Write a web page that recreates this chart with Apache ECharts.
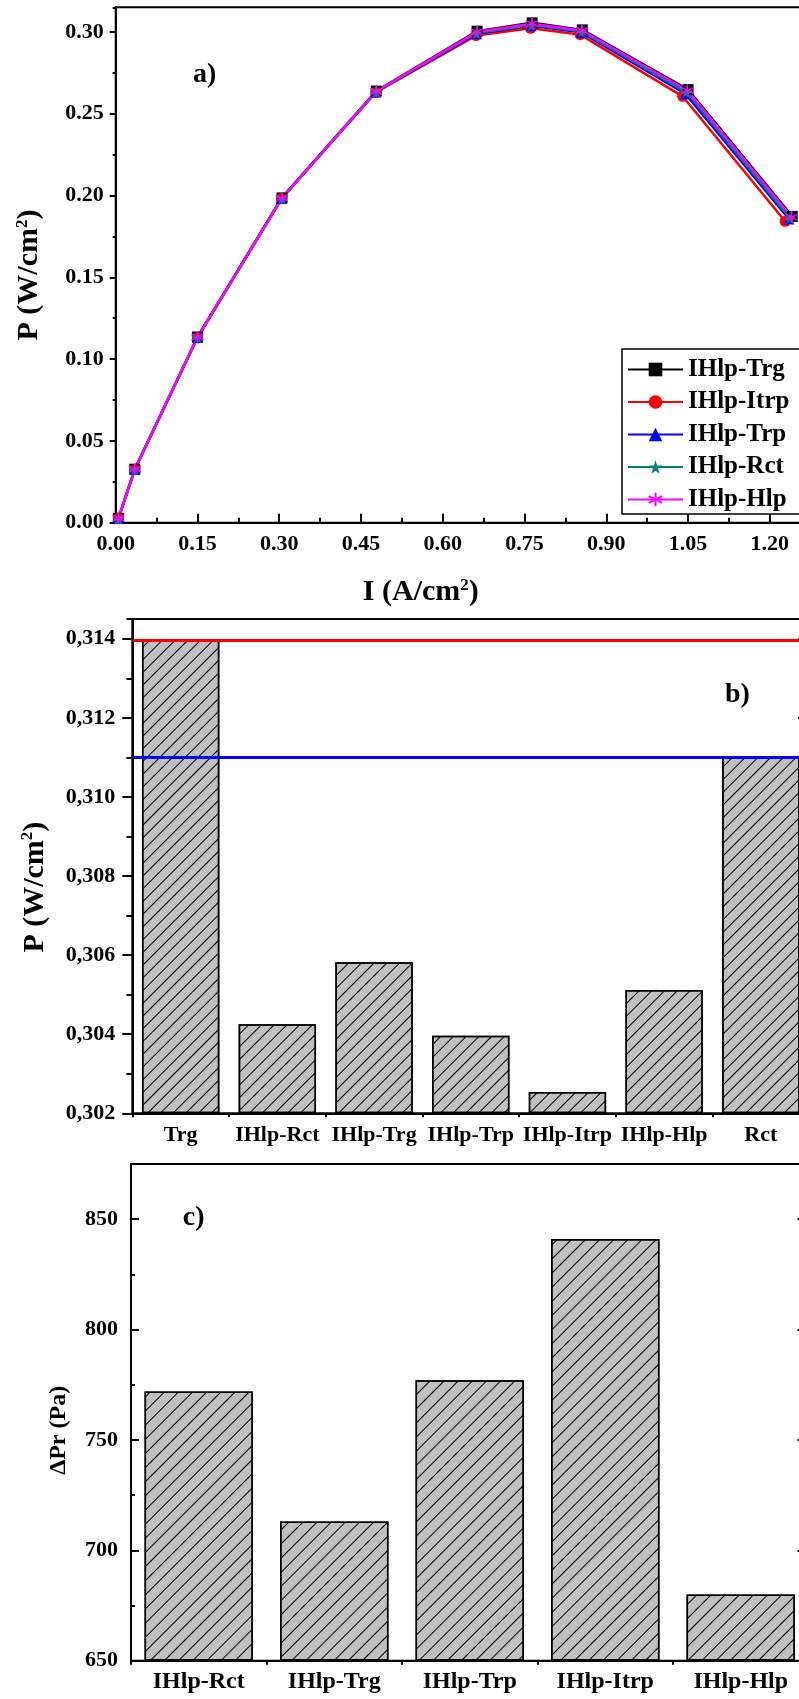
<!DOCTYPE html>
<html><head><meta charset="utf-8">
<script src="https://cdn.jsdelivr.net/npm/echarts@6/dist/echarts.min.js"></script>
<style>html,body{margin:0;padding:0;background:#fff}#c{width:799px;height:1699px}</style>
</head><body><div id="c"></div>
<script>
// ---------- Panel a: P vs I ----------
const seriesNames = ['IHlp-Trg', 'IHlp-Itrp', 'IHlp-Trp', 'IHlp-Rct', 'IHlp-Hlp'];
const currentTrg  = [0.005, 0.035, 0.150, 0.305, 0.478, 0.663, 0.764, 0.856, 1.050, 1.241];
const powerTrg    = [0.0027, 0.0327, 0.1135, 0.1985, 0.2638, 0.3004, 0.3055, 0.3012, 0.2647, 0.1872];
const currentItrp = [0.005, 0.035, 0.150, 0.304, 0.477, 0.661, 0.761, 0.852, 1.040, 1.228];
const powerItrp   = [0.0025, 0.0325, 0.1130, 0.1980, 0.2630, 0.2977, 0.3022, 0.2983, 0.2606, 0.1842];
const currentTrp  = [0.005, 0.035, 0.150, 0.304, 0.477, 0.662, 0.762, 0.854, 1.045, 1.235];
const powerTrp    = [0.0026, 0.0326, 0.1132, 0.1982, 0.2633, 0.2988, 0.3037, 0.2997, 0.2622, 0.1856];
const currentRct  = [0.005, 0.035, 0.150, 0.305, 0.478, 0.662, 0.763, 0.855, 1.047, 1.237];
const powerRct    = [0.0026, 0.0326, 0.1133, 0.1983, 0.2635, 0.2993, 0.3042, 0.3003, 0.2632, 0.1862];
const currentHlp  = [0.005, 0.035, 0.150, 0.305, 0.478, 0.663, 0.764, 0.856, 1.049, 1.240];
const powerHlp    = [0.0027, 0.0327, 0.1134, 0.1984, 0.2637, 0.3000, 0.3050, 0.3008, 0.2641, 0.1868];

// ---------- Panel b: max power per configuration ----------
const barCatsB = ['Trg', 'IHlp-Rct', 'IHlp-Trg', 'IHlp-Trp', 'IHlp-Itrp', 'IHlp-Hlp', 'Rct'];
const barValsB = [0.31396, 0.30425, 0.30582, 0.30396, 0.30254, 0.30512, 0.31100];
const refLineRedB = 0.31396;
const refLineBlueB = 0.31100;

// ---------- Panel c: pressure drop ----------
const barCatsC = ['IHlp-Rct', 'IHlp-Trg', 'IHlp-Trp', 'IHlp-Itrp', 'IHlp-Hlp'];
const barValsC = [772, 713, 777, 841, 680];

const FONT = "'Liberation Serif','Times New Roman',serif";
const zip = (xs, ys) => xs.map((x, i) => [x, ys[i]]);
const lineData = [
  zip(currentTrg, powerTrg), zip(currentItrp, powerItrp), zip(currentTrp, powerTrp),
  zip(currentRct, powerRct), zip(currentHlp, powerHlp)
];
const colors = ['#000000', '#ff0000', '#0000ff', '#008080', '#ff00ff'];
const STAR = 'path://M50,0L61,35L98,35L68,57L79,91L50,70L21,91L32,57L2,35L39,35Z';
const ASTER = 'path://M50,0L50,100M7,25L93,75M7,75L93,25';
const symbols = ['rect', 'circle', 'triangle', STAR, ASTER];

const blk = { color: '#000', width: 2 };
const lblStyle = (size, extra) => Object.assign({ fontFamily: FONT, fontWeight: 'bold', fontSize: size, color: '#000' }, extra || {});
const richName = (size, sup) => ({
  m: { fontFamily: FONT, fontWeight: 'bold', fontSize: size, color: '#000', lineHeight: size + 2 },
  s: { fontFamily: FONT, fontWeight: 'bold', fontSize: sup, color: '#000', verticalAlign: 'top', lineHeight: sup }
});

function gridBox(left, top, width, height) {
  return { left, top, width, height, show: true, borderColor: '#000', borderWidth: 2,
           backgroundColor: 'transparent', containLabel: false, outerBoundsMode: 'none' };
}

function valAxis(o) {
  return Object.assign({
    type: 'value', splitLine: { show: false }, nameMoveOverlap: false,
    axisLine: { show: false, onZero: false, lineStyle: blk },
    axisLabel: { show: false }
  }, o);
}

const hatchB = { symbol: 'rect', symbolSize: 1, color: '#000', dashArrayX: [1, 0], dashArrayY: [1, 8], rotation: -Math.PI / 4 };
const hatchC = { symbol: 'rect', symbolSize: 1, color: '#000', dashArrayX: [1, 0], dashArrayY: [1, 9], rotation: -Math.PI / 4 };

const option = {
  animation: false,
  backgroundColor: '#fff',
  grid: [
    gridBox(115.7, 7.3, 692.3, 515.4),
    gridBox(132.3, 619, 676.9, 494.3),
    gridBox(131, 1164, 677.5, 496.7)
  ],
  xAxis: [
    valAxis({ gridIndex: 0, position: 'bottom', min: 0, max: 1.27, interval: 0.15,
      axisLine: { show: true, onZero: false, lineStyle: blk },
      axisTick: { show: true, inside: true, length: 9, lineStyle: blk },
      axisLabel: lblStyle(22, { show: true, margin: 11, showMaxLabel: false, formatter: v => v.toFixed(2) }),
      name: '{m|I (A/cm}{s|2}{m|)}', nameLocation: 'middle', nameGap: 54,
      nameTextStyle: { padding: [0, 82, 0, 0], rich: richName(30, 17) } }),
    valAxis({ gridIndex: 0, position: 'bottom', min: 0, max: 1.27, interval: 0.075,
      axisTick: { show: true, inside: true, length: 5, lineStyle: blk } }),
    { gridIndex: 1, type: 'category', data: barCatsB, position: 'bottom', boundaryGap: true,
      axisLine: { show: true, onZero: false, lineStyle: blk },
      axisTick: { show: true, inside: false, length: 4, alignWithLabel: false, interval: 0, lineStyle: blk },
      axisLabel: lblStyle(22, { interval: 0, margin: 11, hideOverlap: false }),
      splitLine: { show: false } },
    { gridIndex: 2, type: 'category', data: barCatsC, position: 'bottom', boundaryGap: true,
      axisLine: { show: true, onZero: false, lineStyle: blk },
      axisTick: { show: true, inside: false, length: 4, alignWithLabel: false, interval: 0, lineStyle: blk },
      axisLabel: lblStyle(24, { interval: 0, margin: 9, hideOverlap: false }),
      splitLine: { show: false } }
  ],
  yAxis: [
    valAxis({ gridIndex: 0, position: 'left', min: 0, max: 0.315, interval: 0.05,
      axisLine: { show: true, onZero: false, lineStyle: blk },
      axisTick: { show: true, inside: false, length: 6, lineStyle: blk },
      axisLabel: lblStyle(22, { show: true, margin: 12, showMaxLabel: false, formatter: v => v.toFixed(2) }),
      name: '{m|P (W/cm}{s|2}{m|)}', nameLocation: 'middle', nameGap: 70,
      nameTextStyle: { padding: [0, 20, 0, 0], rich: richName(30, 17) } }),
    valAxis({ gridIndex: 0, position: 'left', min: 0, max: 0.315, interval: 0.025,
      axisTick: { show: true, inside: false, length: 3, lineStyle: blk } }),
    valAxis({ gridIndex: 1, position: 'left', min: 0.302, max: 0.3145, interval: 0.002, startValue: 0.302,
      axisLine: { show: true, onZero: false, lineStyle: blk },
      axisTick: { show: true, inside: false, length: 10, lineStyle: blk },
      axisLabel: lblStyle(22, { show: true, margin: 17, showMaxLabel: false, formatter: v => v.toFixed(3).replace('.', ',') }),
      name: '{m|P (W/cm}{s|2}{m|)}', nameLocation: 'middle', nameGap: 81,
      nameTextStyle: { padding: [0, 42, 0, 0], rich: richName(30, 17) } }),
    valAxis({ gridIndex: 1, position: 'left', min: 0.302, max: 0.3145, interval: 0.001,
      axisTick: { show: true, inside: false, length: 6, lineStyle: blk } }),
    valAxis({ gridIndex: 1, position: 'right', min: 0.302, max: 0.3145, interval: 0.002,
      axisLine: { show: true, onZero: false, lineStyle: blk },
      axisTick: { show: true, inside: true, length: 11, lineStyle: blk } }),
    valAxis({ gridIndex: 2, position: 'left', min: 650, max: 875, interval: 50, startValue: 650,
      axisLine: { show: true, onZero: false, lineStyle: blk },
      axisTick: { show: true, inside: true, length: 8, lineStyle: blk },
      axisLabel: lblStyle(22, { show: true, margin: 13, showMaxLabel: false }),
      name: 'ΔPr (Pa)', nameLocation: 'middle', nameGap: 60,
      nameTextStyle: lblStyle(24, { padding: [0, 36, 0, 0] }) }),
    valAxis({ gridIndex: 2, position: 'left', min: 650, max: 875, interval: 25,
      axisTick: { show: true, inside: true, length: 4, lineStyle: blk } }),
    valAxis({ gridIndex: 2, position: 'right', min: 650, max: 875, interval: 50,
      axisLine: { show: true, onZero: false, lineStyle: blk },
      axisTick: { show: true, inside: true, length: 11, lineStyle: blk } })
  ],
  legend: {
    data: seriesNames, orient: 'vertical', left: 622, top: 349,
    itemWidth: 55, itemHeight: 17, itemGap: 7.5, padding: [8, 14, 2, 5],
    borderColor: '#000', borderWidth: 1.5, backgroundColor: '#fff',
    selectedMode: false,
    textStyle: lblStyle(25, { lineHeight: 25 })
  },
  graphic: [
    { type: 'text', x: 193, y: 75, style: { text: 'a)', font: 'bold 28px ' + FONT, fill: '#000', verticalAlign: 'middle', align: 'left' } },
    { type: 'text', x: 725, y: 694.5, style: { text: 'b)', font: 'bold 28px ' + FONT, fill: '#000', verticalAlign: 'middle', align: 'left' } },
    { type: 'text', x: 182.7, y: 1217.5, style: { text: 'c)', font: 'bold 28px ' + FONT, fill: '#000', verticalAlign: 'middle', align: 'left' } }
  ],
  series: seriesNames.map((name, i) => ({
    name, type: 'line', xAxisIndex: 0, yAxisIndex: 0, data: lineData[i],
    symbol: symbols[i], symbolSize: i === 3 ? 13 : (i === 4 ? 12 : 11), showAllSymbol: true,
    color: colors[i],
    lineStyle: { color: colors[i], width: 2.5 },
    itemStyle: i === 4 ? { color: colors[i], borderColor: colors[i], borderWidth: 1.5 } : { color: colors[i] },
    emphasis: { disabled: true }
  })).concat([
    { name: 'Pmax', type: 'bar', xAxisIndex: 2, yAxisIndex: 2, data: barValsB, barWidth: '80%',
      itemStyle: { color: '#c0c0c0', borderColor: '#000', borderWidth: 1.5, decal: hatchB },
      emphasis: { disabled: true },
      markLine: { silent: true, precision: 6, symbol: ['none', 'none'], label: { show: false },
        data: [
          { yAxis: refLineRedB, lineStyle: { color: '#ff0000', width: 3, type: 'solid' } },
          { yAxis: refLineBlueB, lineStyle: { color: '#0000ff', width: 3, type: 'solid' } }
        ] } },
    { name: 'dP', type: 'bar', xAxisIndex: 3, yAxisIndex: 5, data: barValsC, barWidth: '80%',
      itemStyle: { color: '#c0c0c0', borderColor: '#000', borderWidth: 1.5, decal: hatchC },
      emphasis: { disabled: true } }
  ])
};

const chart = echarts.init(document.getElementById('c'), null, { renderer: 'canvas', width: 799, height: 1699 });
chart.setOption(option);
</script>
</body></html>
